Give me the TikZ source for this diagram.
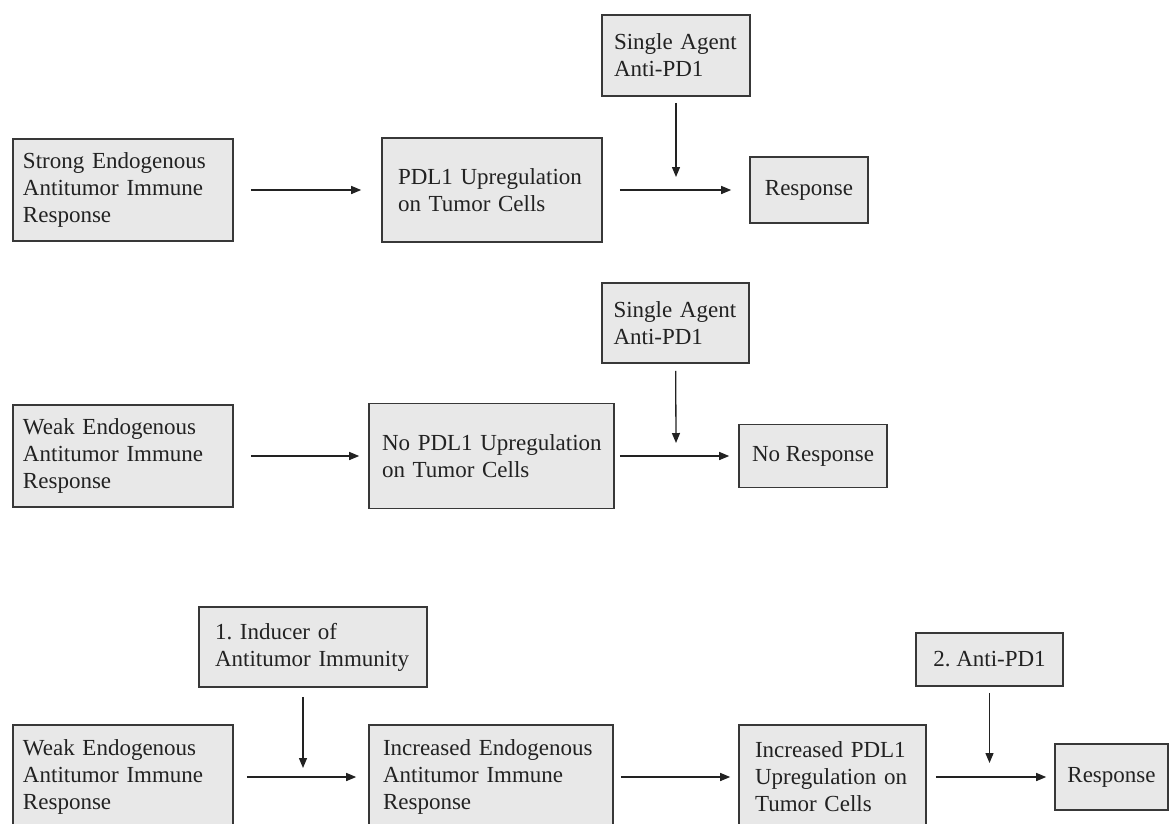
\documentclass[tikz,border=0pt]{standalone}
\usepackage{fontspec}
\setmainfont{Liberation Serif}
\usetikzlibrary{arrows.meta}
\frenchspacing
\definecolor{boxfill}{HTML}{E8E8E8}
\definecolor{boxline}{HTML}{383838}
\definecolor{txt}{HTML}{222222}
\tikzset{
  box/.style={draw=boxline, fill=boxfill, line width=1.6pt, inner sep=0pt,
    align=left, text=txt, font=\fontsize{23}{27}\selectfont\frenchspacing},
  arr/.style={draw=txt, line width=1.3pt, -{Triangle[length=10pt,width=8pt]}}
}
\begin{document}
\begin{tikzpicture}[x=1pt,y=-1pt]
\useasboundingbox (0,0) rectangle (1169,823);
\clip (0,0) rectangle (1169,823);
% Row 1
\node[box, minimum width=220pt, minimum height=102pt, text width=200pt] (A1) at (123,190) {Strong Endogenous\\Antitumor Immune\\Response};
\node[box, minimum width=220pt, minimum height=104pt, text width=188pt] (B1) at (492,190) {\mbox{PDL1 Upregulation}\\on Tumor Cells};
\node[box, minimum width=148pt, minimum height=81pt, text width=124pt] (S1) at (676,55.5) {\mbox{Single Agent}\\Anti-PD1};
\node[box, minimum width=118pt, minimum height=66pt] (R1) at (809,190) {Response};
\coordinate (j1) at (676,177);
\draw[arr, shorten <=17pt, shorten >=20pt] (A1) -- (B1);
\draw[arr, shorten <=17pt, shorten >=18pt] (B1) -- (R1);
\draw[arr, shorten <=6pt] (S1) -- (j1);
% Row 2
\node[box, minimum width=220pt, minimum height=102pt, text width=200pt] (A2) at (123,456) {Weak Endogenous\\Antitumor Immune\\Response};
\node[box, minimum width=245pt, minimum height=105pt, text width=219pt] (B2) at (491.5,456) {\mbox{No PDL1 Upregulation}\\on Tumor Cells};
\node[box, minimum width=147pt, minimum height=80pt, text width=124pt] (S2) at (675.5,323) {\mbox{Single Agent}\\Anti-PD1};
\node[box, minimum width=148pt, minimum height=63pt] (R2) at (813,456) {No Response};
\coordinate (j2) at (676,443);
\draw[arr, shorten <=17pt, shorten >=9pt] (A2) -- (B2);
\draw[arr, shorten <=5pt, shorten >=9pt] (B2) -- (R2);
\draw[arr, shorten <=7pt] (S2) -- (j2);
% Row 3
\node[box, minimum width=228pt, minimum height=80pt, text width=196pt] (I3) at (313,647) {1. Inducer of\\\mbox{Antitumor Immunity}};
\node[box, minimum width=220pt, minimum height=104pt, text width=200pt] (A3) at (123,777) {Weak Endogenous\\Antitumor Immune\\Response};
\node[box, minimum width=244pt, minimum height=104pt, text width=216pt] (B3) at (491,777) {\mbox{Increased Endogenous}\\Antitumor Immune\\Response};
\node[box, minimum width=187pt, minimum height=104pt, text width=155pt] (C3) at (832.5,777) {Increased PDL1\\\mbox{Upregulation on}\\Tumor Cells};
\node[box, minimum width=147pt, minimum height=53pt] (S3) at (989.5,659.5) {2. Anti-PD1};
\node[box, minimum width=113pt, minimum height=66pt] (R3) at (1111.5,777) {Response};
\coordinate (j3) at (303,768);
\coordinate (j4) at (989.5,763);
\draw[arr, shorten <=13pt, shorten >=12pt] (A3) -- (B3);
\draw[arr, shorten <=7pt, shorten >=8pt] (B3) -- (C3);
\draw[arr, shorten <=9pt, shorten >=8pt] (C3) -- (R3);
\draw[arr, shorten <=9pt] (j3 |- I3.south) -- (j3);
\draw[arr, shorten <=6pt] (S3) -- (j4);
\end{tikzpicture}
\end{document}
